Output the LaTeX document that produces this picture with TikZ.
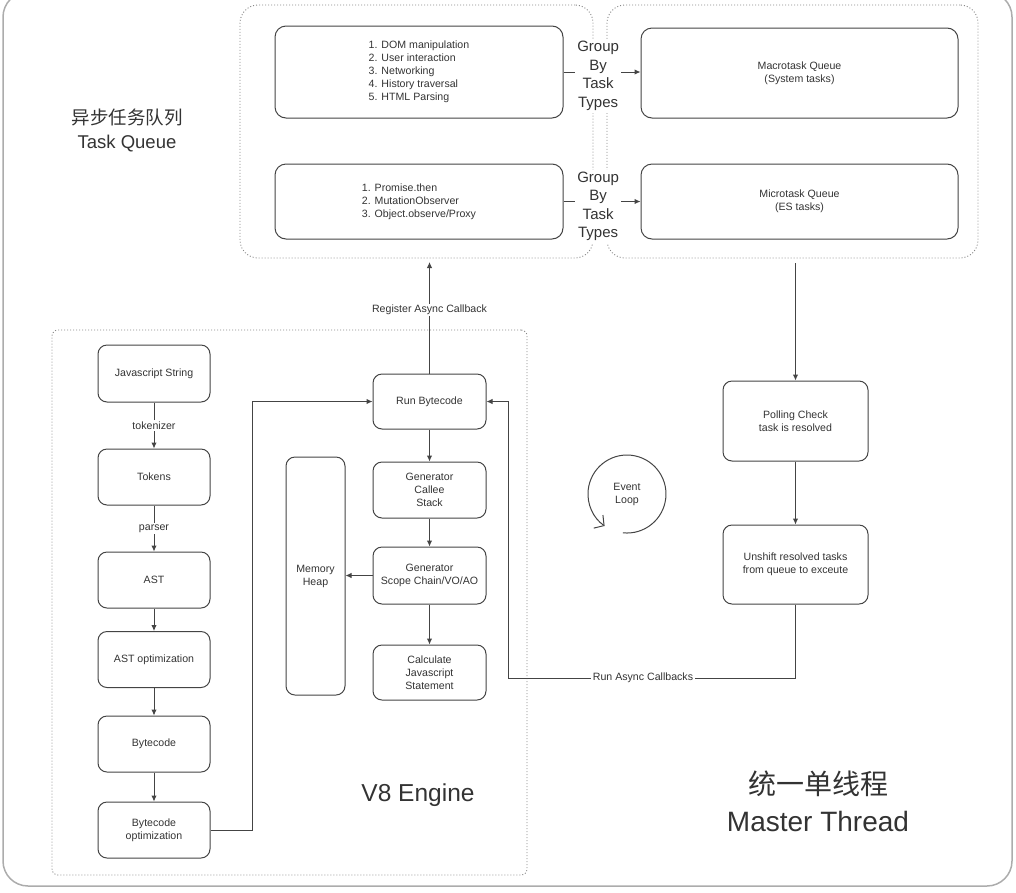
\documentclass[tikz,border=0pt]{standalone}
\usepackage{fontspec}
\setmainfont{Liberation Sans}
\newfontfamily\cjk{Noto Sans CJK SC}
\usetikzlibrary{arrows.meta}
\definecolor{lncol}{HTML}{444444}
\definecolor{txcol}{HTML}{333333}
\definecolor{dotcol}{HTML}{888888}
\begin{document}
\begin{tikzpicture}[x=1pt,y=-1pt,
  small/.style={font=\fontsize{10.6}{13}\selectfont, text=txcol},
  box/.style={small, draw=lncol, line width=1pt, rounded corners=9pt, align=center, inner sep=0pt},
  dotbox/.style={draw=dotcol, line width=0.9pt, dash pattern=on 1pt off 2pt, inner sep=0pt},
  conn/.style={draw=lncol, line width=1pt},
  arr/.style={conn, -{Latex[length=6pt,width=5.5pt]}},
  lbl/.style={small, fill=white, inner sep=1.5pt},
  grp/.style={font=\fontsize{15}{18.5}\selectfont, text=txcol, fill=white, align=center, inner sep=2pt},
  big/.style={text=txcol, align=center}]
\useasboundingbox (0,0) rectangle (1016,892);
% outer frame
\draw[draw=gray!65, line width=1.5pt, rounded corners=25pt] (3,-8) rectangle (1012,886);
% task queue dotted groups
\node[dotbox, rounded corners=18pt, minimum width=353pt, minimum height=253pt] (tqL) at (416.5,131.5) {};
\node[dotbox, rounded corners=18pt, minimum width=371pt, minimum height=253pt] (tqR) at (792.5,131.5) {};
% V8 dotted group
\node[dotbox, rounded corners=6pt, minimum width=475pt, minimum height=545pt] (v8) at (289.5,602.5) {};
% task queue boxes
\node[box, rounded corners=11pt, minimum width=288pt, minimum height=92pt] (tq1) at (419,72)
  {\begin{tabular}{@{}l@{}}1. DOM manipulation\\2. User interaction\\3. Networking\\4. History traversal\\5. HTML Parsing\end{tabular}};
\node[box, rounded corners=11pt, minimum width=288pt, minimum height=75pt] (tq2) at (419,201.5)
  {\begin{tabular}{@{}l@{}}1. Promise.then\\2. MutationObserver\\3. Object.observe/Proxy\end{tabular}};
\node[box, rounded corners=11pt, minimum width=317pt, minimum height=90pt] (macro) at (799.5,73) {Macrotask Queue\\(System tasks)};
\node[box, rounded corners=11pt, minimum width=317pt, minimum height=75pt] (micro) at (799.5,201.5) {Microtask Queue\\(ES tasks)};
\draw[arr] (tq1.east) -- node[grp, pos=0.45, yshift=-4pt] {Group\\By\\Task\\Types} (tq1.east -| macro.west);
\draw[arr] (tq2.east) -- node[grp, pos=0.45, yshift=-5pt] {Group\\By\\Task\\Types} (tq2.east -| micro.west);
% titles
\node[big, font=\fontsize{18.5}{24}\selectfont] (tqtitle) at (127,130) {{\cjk 异步任务队列}\\Task Queue};
\node[big, font=\fontsize{24.5}{28}\selectfont] (v8title) at (418,795) {V8 Engine};
\node[big, font=\fontsize{28}{37}\selectfont] (mttitle) at (818,801) {{\cjk 统一单线程}\\Master Thread};
% left column
\node[box, minimum width=112pt, minimum height=57pt] (js) at (154,373.5) {Javascript String};
\node[box, minimum width=112pt, minimum height=56pt] (tok) at (154,477) {Tokens};
\node[box, minimum width=112pt, minimum height=56pt] (ast) at (154,580) {AST};
\node[box, minimum width=112pt, minimum height=56pt] (asto) at (154,659.5) {AST optimization};
\node[box, minimum width=112pt, minimum height=56pt] (bc) at (154,744) {Bytecode};
\node[box, minimum width=112pt, minimum height=56pt] (bco) at (154,830) {Bytecode\\optimization};
\draw[arr] (js) -- node[lbl] {tokenizer} (tok);
\draw[arr] (tok) -- node[lbl] {parser} (ast);
\draw[arr] (ast) -- (asto);
\draw[arr] (asto) -- (bc);
\draw[arr] (bc) -- (bco);
% middle column
\node[box, minimum width=113pt, minimum height=55pt] (run) at (429.5,401.5) {Run Bytecode};
\node[box, minimum width=113pt, minimum height=56pt] (callee) at (429.5,490) {Generator\\Callee\\Stack};
\node[box, minimum width=113pt, minimum height=57pt] (scope) at (429.5,575.5) {Generator\\Scope Chain/VO/AO};
\node[box, minimum width=113pt, minimum height=55pt] (calc) at (429.5,672.5) {Calculate\\Javascript\\Statement};
\node[box, minimum width=59pt, minimum height=238pt] (heap) at (315.5,576) {Memory\\Heap};
\draw[arr] (run) -- (callee);
\draw[arr] (callee) -- (scope);
\draw[arr] (scope) -- (calc);
\draw[arr] (scope.west) -- (scope.west -| heap.east);
\draw[arr] (bco.east) -- ++(42,0) |- (run.west);
\coordinate (regtop) at (429.5,262);
\draw[arr] (run.north) -- node[lbl, pos=0.57] {Register Async Callback} (regtop);
% right column
\node[box, minimum width=145pt, minimum height=80pt] (poll) at (795.5,421) {Polling Check\\task is resolved};
\node[box, minimum width=145pt, minimum height=79pt] (unshift) at (795.5,564.5) {Unshift resolved tasks\\from queue to exceute};
\coordinate (mqout) at (795.5,263);
\draw[arr] (mqout) -- (poll.north);
\draw[arr] (poll) -- (unshift);
\coordinate (rc) at (508,678);
\draw[conn] (unshift.south) |- (rc);
\draw[arr] (rc) |- (run.east);
\node[lbl] (racb) at (643,678) {Run Async Callbacks};
% event loop
\draw[draw=lncol, line width=1pt, -{Straight Barb[length=7pt,width=16pt]}] (622.9,532.8) arc[start angle=-96, end angle=235, radius=39pt];
\node[small, align=center] (evl) at (627,494) {Event\\Loop};
\end{tikzpicture}
\end{document}
